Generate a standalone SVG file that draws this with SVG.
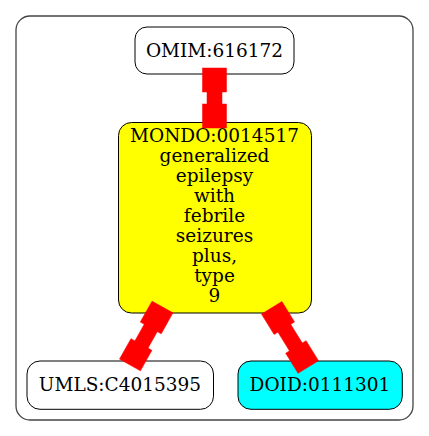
<svg xmlns="http://www.w3.org/2000/svg" width="429" height="436" viewBox="0 0 429 436">
<style>
.node rect{stroke:#000;stroke-width:1}
text{font-family:"DejaVu Serif","Liberation Serif",serif;font-size:18.5px;text-anchor:middle;fill:#000}
.edge{fill:#ff0000;stroke:#ff0000;stroke-width:0.5}
</style>
<rect x="16" y="16" width="397" height="404" rx="14" ry="14" fill="#fff" stroke="#444" stroke-width="1.3"/>
<g id="n_omim" class="node"><rect x="135" y="27" width="159" height="47" rx="12" ry="12" fill="#fff"/><text x="214.5" y="56.5">OMIM:616172</text></g>
<g id="n_mondo" class="node"><rect x="118.5" y="122.5" width="193" height="190.5" rx="13" ry="13" fill="#ffff00"/>
<text x="214.5" y="142.3">MONDO:0014517</text>
<text x="214.5" y="162.3">generalized</text>
<text x="214.5" y="182.3">epilepsy</text>
<text x="214.5" y="202.3">with</text>
<text x="214.5" y="222.3">febrile</text>
<text x="214.5" y="242.3">seizures</text>
<text x="214.5" y="262.3">plus,</text>
<text x="214.5" y="282.3">type</text>
<text x="214.5" y="302.3">9</text></g>
<g id="n_umls" class="node"><rect x="27" y="361" width="186.5" height="48.3" rx="13" ry="13" fill="#fff"/><text x="120" y="391">UMLS:C4015395</text></g>
<g id="n_doid" class="node"><rect x="238" y="361" width="164.3" height="48.3" rx="13" ry="13" fill="#00ffff"/><text x="320" y="391">DOID:0111301</text></g>
<g id="edges" class="edge">
<g transform="translate(214.5,68)"><rect x="-12" y="0" width="24" height="24"/><rect x="-7.5" y="23" width="15" height="14"/><rect x="-12" y="36" width="24" height="24"/></g>
<g transform="translate(162.5,307) rotate(29.3)"><rect x="-12" y="0" width="24" height="24"/><rect x="-7.5" y="23" width="15" height="21"/><rect x="-12" y="43" width="24" height="23.5"/></g>
<g transform="translate(271.7,307.8) rotate(-31.7)"><rect x="-12" y="0" width="24" height="24"/><rect x="-7.5" y="23" width="15" height="24"/><rect x="-12" y="46" width="24" height="23.6"/></g>
</g>
</svg>
